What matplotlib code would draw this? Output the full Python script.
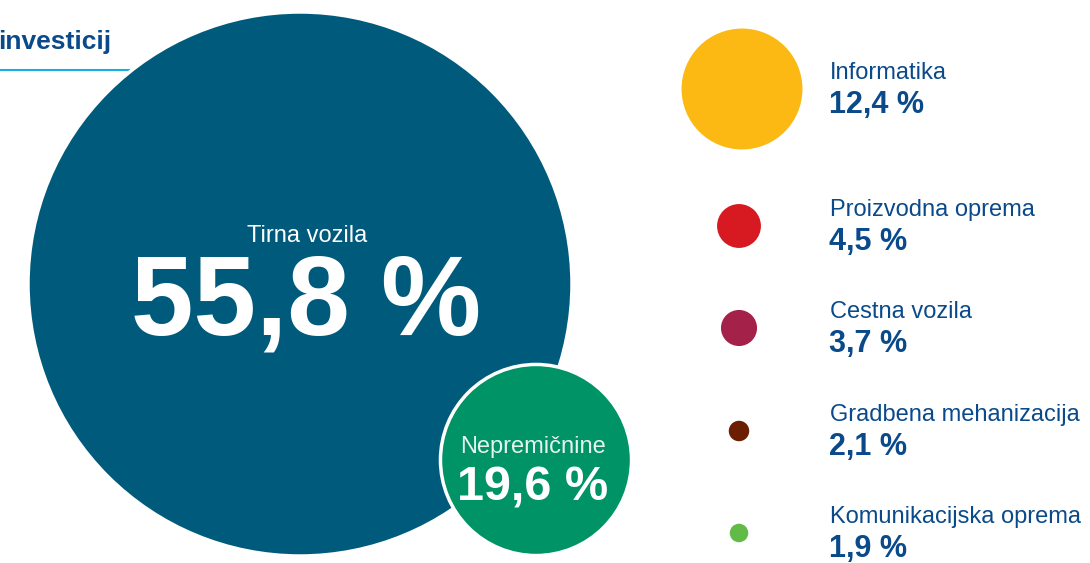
import matplotlib.pyplot as plt
from matplotlib.patches import Circle

# shares of investments (%), radius of each bubble is proportional to the value
big_labels = ['Tirna vozila', 'Nepremičnine']
big_values = [55.8, 19.6]
big_colors = ['#005a7c', '#009366']

side_labels = ['Informatika', 'Proizvodna oprema', 'Cestna vozila',
               'Gradbena mehanizacija', 'Komunikacijska oprema']
side_values = [12.4, 4.5, 3.7, 2.1, 1.9]
side_colors = ['#fdb913', '#d71a21', '#a4214a', '#6b1f00', '#62bb46']

title = 'investicij'


def fmt(v):
    return ('%.1f' % v).replace('.', ',') + ' %'


plt.rcParams['font.family'] = ['Liberation Sans', 'DejaVu Sans']
text_blue = '#0a4a8a'

fig = plt.figure(figsize=(10.9, 5.63), dpi=100)
ax = fig.add_axes([0, 0, 1, 1])
ax.set_xlim(0, 1090)
ax.set_ylim(563, 0)
ax.set_aspect('equal')
ax.axis('off')

scale = 272 / 55.8  # pixels of radius per percent

# title cut at the left edge + thin blue rule
ax.text(-2, 42, title, fontsize=19, fontweight='bold', color=text_blue,
        ha='left', va='center')
ax.plot([0, 133], [70, 70], color='#1aaee6', lw=1.5)

# big bubbles
centers = [(300, 284), (536, 460)]
for (cx, cy), v, c in zip(centers, big_values, big_colors):
    ax.add_patch(Circle((cx, cy), v * scale, facecolor=c, edgecolor='white',
                        lw=2.5, zorder=2))

ax.text(307, 236, big_labels[0], fontsize=17, color='white', ha='center',
        va='center', zorder=3)
ax.text(306, 305, fmt(big_values[0]), fontsize=81, fontweight='bold',
        color='white', ha='center', va='center', zorder=3)
ax.text(533, 447, big_labels[1], fontsize=17, color='#e6f4ee', ha='center',
        va='center', zorder=3)
ax.text(533, 488, fmt(big_values[1]), fontsize=35, fontweight='bold',
        color='white', ha='center', va='center', zorder=3)

# small bubbles with labels on the right
side_y = [89, 226, 328, 431, 533]
side_x = [742, 739, 739, 739, 739]
for x, y, lab, v, c in zip(side_x, side_y, side_labels, side_values, side_colors):
    ax.add_patch(Circle((x, y), v * scale, facecolor=c, edgecolor='none', zorder=2))
    ax.text(830, y - 16, lab, fontsize=17, color=text_blue, ha='left', va='center')
    ax.text(829, y + 16, fmt(v), fontsize=22, fontweight='bold', color=text_blue,
            ha='left', va='center')

fig.savefig('out.png', dpi=100)
